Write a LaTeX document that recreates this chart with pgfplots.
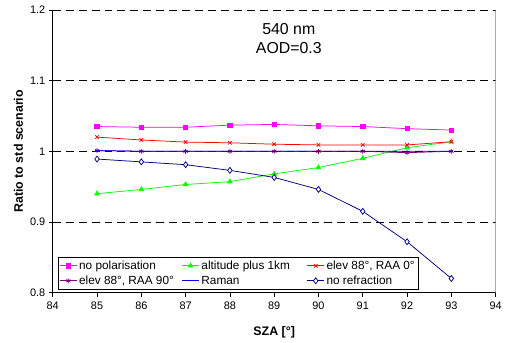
\documentclass[border=0pt]{standalone}
\usepackage{pgfplots}
\pgfplotsset{compat=1.18}
\usepackage{fontspec}
\setmainfont{Liberation Sans}
\definecolor{cmag}{RGB}{255,0,255}
\definecolor{cgreen}{RGB}{0,255,0}
\definecolor{cred}{RGB}{255,0,0}
\definecolor{cpurple}{RGB}{128,0,128}
\definecolor{cblue}{RGB}{0,0,255}
\definecolor{cnavy}{RGB}{0,0,128}
\begin{document}
\begin{tikzpicture}
\begin{axis}[
  name=ax,
  scale only axis, width=445bp, height=284bp,
  xmin=84, xmax=94, ymin=0.8, ymax=1.2,
  xtick={84,85,...,94}, ytick={0.8,0.9,1,1.1,1.2},
  axis x line=bottom, axis y line=left,
  axis line style={-, black, line width=0.8pt},
  tick align=outside, major tick length=4bp,
  tick style={black, line width=0.6pt},
  ymajorgrids, grid style={black, dash pattern=on 8bp off 5bp, line width=0.5pt},
  /pgf/number format/assume math mode=true,
  tick label style={font=\fontsize{11}{13}\selectfont},
  xticklabel style={yshift=-2bp},
  xlabel={\textbf{SZA [°]}}, ylabel={\textbf{Ratio to std scenario}},
  label style={font=\fontsize{12.5}{14}\selectfont},
  xlabel style={at={(rel axis cs:0.5,-0.1514)}, anchor=base},
  ylabel style={at={(rel axis cs:-0.0775,0.5)}, anchor=center, rotate=0},
  legend columns=3,
  legend style={at={(0.0112,0.0106)}, anchor=south west, draw=black, line width=0.6pt,
    font=\fontsize{11.9}{14}\selectfont, inner sep=1.5pt,
    /tikz/column 2/.style={column sep=6bp},
    /tikz/column 4/.style={column sep=15bp}, row sep=1bp},
  legend cell align=left,
  every axis plot/.append style={line width=0.75pt},
]
\addplot[cmag, mark=square*, mark size=2.2pt] coordinates {
(85,1.035)(86,1.034)(87,1.034)(88,1.037)(89,1.038)(90,1.036)(91,1.035)(92,1.032)(93,1.030)};
\addlegendentry{no polarisation}
\addplot[cgreen, mark=triangle*, mark size=2.6pt] coordinates {
(85,0.940)(86,0.946)(87,0.953)(88,0.957)(89,0.968)(90,0.977)(91,0.990)(92,1.005)(93,1.0135)};
\addlegendentry{altitude plus 1km}
\addplot[cred, mark=x, mark size=2.5pt] coordinates {
(85,1.020)(86,1.016)(87,1.013)(88,1.012)(89,1.010)(90,1.009)(91,1.009)(92,1.009)(93,1.0135)};
\addlegendentry{elev 88°, RAA 0°}
\addplot[cpurple, mark=asterisk, mark size=2.5pt] coordinates {
(85,1.001)(86,1.000)(87,1.000)(88,1.000)(89,1.000)(90,1.000)(91,1.000)(92,0.998)(93,1.000)};
\addlegendentry{elev 88°, RAA 90°}
\addplot[color=cblue, mark=-, mark size=2pt] coordinates {
(85,1.001)(86,1.000)(87,1.000)(88,1.000)(89,1.000)(90,1.000)(91,1.000)(92,1.000)(93,1.000)};
\addlegendentry{Raman}
\addplot[cnavy, mark=diamond*, mark options={fill=white}, mark size=3pt] coordinates {
(85,0.989)(86,0.985)(87,0.981)(88,0.973)(89,0.963)(90,0.946)(91,0.915)(92,0.872)(93,0.820)};
\addlegendentry{no refraction}
\draw[gray, line width=0.8pt] (rel axis cs:1,0) -- (rel axis cs:1,1);
\node[align=center, font=\fontsize{16}{19}\selectfont] at (axis cs:89.33,1.16) {540 nm\\AOD=0.3};
\end{axis}
\path (ax.south west) ++(-53bp,-50bp);
\path (ax.north east) ++(7bp,10bp);
\end{tikzpicture}
\end{document}
